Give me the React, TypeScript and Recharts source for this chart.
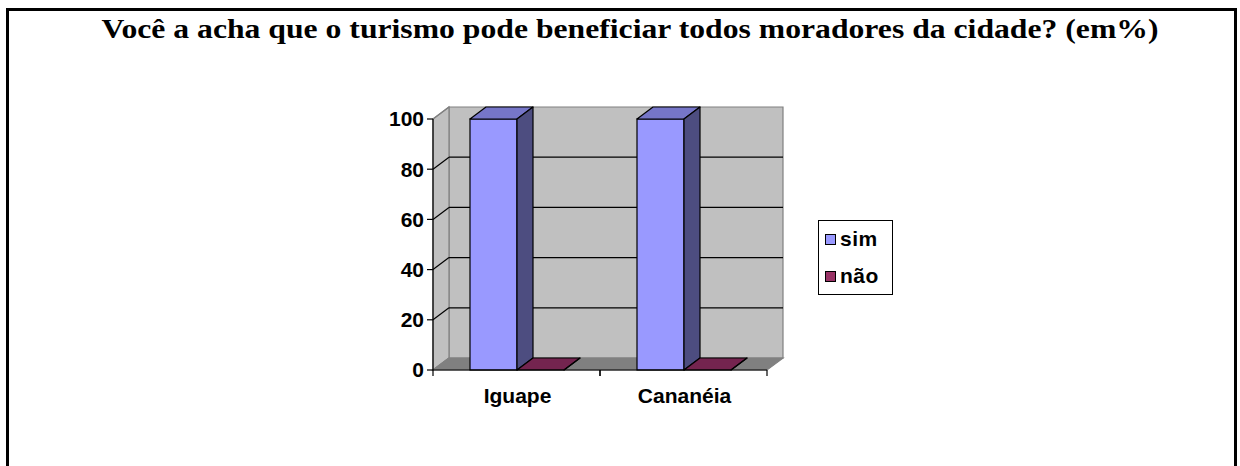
import { BarChart, Bar, XAxis, YAxis, CartesianGrid } from "recharts";

const categories = ["Iguape", "Cananéia"];
const simValues = [100, 100];
const naoValues = [0, 0];
const yTicks = [0, 20, 40, 60, 80, 100];
const seriesKeys = ["sim", "nao"] as const;
const seriesNames = { sim: "sim", nao: "não" };

const data = categories.map((name, i) => ({ name, sim: simValues[i], nao: naoValues[i] }));

// depth of the fake 3D effect
const DX = 16;
const DY = -12;

// fallback plot box (matches the margins below)
const PLOT = { left: 433, right: 767, top: 119, bottom: 370 };

const SANS = "'Liberation Sans', Arial, sans-serif";
const SERIF = '"Liberation Serif", "Times New Roman", Times, serif';

const colors = {
  sim: { front: "#9999ff", top: "#7676c8", side: "#4d4d80" },
  nao: { front: "#993366", top: "#74244f", side: "#4d1a33" },
};

const make3DBar = (c: { front: string; top: string; side: string }) => (props: any) => {
  const { x, y, width, height } = props;
  if (x == null || y == null) return <g />;
  const yb = y + height;
  const xr = x + width;
  return (
    <g>
      <rect x={x} y={y} width={width} height={height} fill={c.front} stroke="#000" strokeWidth={1.2} />
      <polygon
        points={`${x},${y} ${x + DX},${y + DY} ${xr + DX},${y + DY} ${xr},${y}`}
        fill={c.top}
        stroke="#000"
        strokeWidth={1.2}
        strokeLinejoin="round"
      />
      <polygon
        points={`${xr},${y} ${xr + DX},${y + DY} ${xr + DX},${yb + DY} ${xr},${yb}`}
        fill={c.side}
        stroke="#000"
        strokeWidth={1.2}
        strokeLinejoin="round"
      />
    </g>
  );
};

const plotBox = (p: any) => {
  const top = typeof p.y === "number" ? p.y : PLOT.top;
  const h = typeof p.height === "number" ? p.height : PLOT.bottom - PLOT.top;
  return { left: p.x1 ?? PLOT.left, right: p.x2 ?? PLOT.right, top, bottom: top + h };
};

// walls + floor, drawn once behind the grid lines
const Walls = (p: any) => {
  if (p.index !== 0) return <g key={p.key} />;
  const { left: L, right: R, top: T, bottom: B } = plotBox(p);
  return (
    <g key={p.key}>
      <polygon
        points={`${L + DX},${T + DY} ${R + DX},${T + DY} ${R + DX},${B + DY} ${L + DX},${B + DY}`}
        fill="#c0c0c0"
        stroke="#808080"
        strokeWidth={1.2}
      />
      <polygon
        points={`${L},${T} ${L + DX},${T + DY} ${L + DX},${B + DY} ${L},${B}`}
        fill="#c0c0c0"
        stroke="#808080"
        strokeWidth={1.2}
      />
      <polygon
        points={`${L},${B} ${L + DX},${B + DY} ${R + DX},${B + DY} ${R},${B}`}
        fill="#808080"
        stroke="#808080"
        strokeWidth={1.2}
      />
    </g>
  );
};

const GridLine3D = (p: any) => {
  const { left: L, right: R, top: T, bottom: B } = plotBox(p);
  const y = p.y1;
  const edge = Math.abs(y - T) < 1 || Math.abs(y - B) < 1;
  const stroke = edge ? "#808080" : "#000";
  return (
    <g key={p.key}>
      <line x1={L} y1={y} x2={L + DX} y2={y + DY} stroke={stroke} strokeWidth={1.2} />
      {!edge && <line x1={L + DX} y1={y + DY} x2={R + DX} y2={y + DY} stroke={stroke} strokeWidth={1.2} />}
    </g>
  );
};

const CategoryTick = (props: any) => {
  const { x, y, payload, width, visibleTicksCount } = props;
  const half = width && visibleTicksCount ? width / visibleTicksCount / 2 : 83.5;
  const axisY = y - 8;
  return (
    <g>
      <line x1={x - half} y1={axisY} x2={x - half} y2={axisY + 6} stroke="#000" strokeWidth={1.2} />
      <line x1={x + half} y1={axisY} x2={x + half} y2={axisY + 6} stroke="#000" strokeWidth={1.2} />
      <text x={x + 1} y={y + 25} textAnchor="middle" fontFamily={SANS} fontWeight="bold" fontSize={21} fill="#000">
        {payload.value}
      </text>
    </g>
  );
};

const LegendBox = () => (
  <div
    style={{
      position: "absolute",
      left: 818,
      top: 220,
      width: 75,
      height: 75,
      boxSizing: "border-box",
      border: "1.5px solid #000",
      background: "#fff",
      fontFamily: SANS,
      fontWeight: "bold",
      fontSize: 21,
    }}
  >
    {seriesKeys.map((k, i) => (
      <div key={k} style={{ position: "absolute", left: 6, top: 6 + i * 37, display: "flex", alignItems: "center" }}>
        <div style={{ width: 9, height: 9, border: "1px solid #000", background: colors[k].front, marginRight: 4 }} />
        <span style={{ lineHeight: "24px", letterSpacing: 0.5 }}>{seriesNames[k]}</span>
      </div>
    ))}
  </div>
);

export default function App() {
  return (
    <div style={{ position: "absolute", left: 0, top: 0, width: 1240, height: 466, overflow: "hidden", background: "#fff" }}>
      <div
        style={{
          position: "absolute",
          left: 6,
          top: 8,
          width: 1231,
          height: 480,
          boxSizing: "border-box",
          borderLeft: "3px solid #000",
          borderTop: "3px solid #000",
          borderRight: "3px solid #000",
        }}
      />
      <svg width={1240} height={60} style={{ position: "absolute", left: 0, top: 0 }}>
        <text
          x={630}
          y={38}
          textAnchor="middle"
          style={{ fontFamily: SERIF, fontWeight: "bold", fontSize: 28 }}
          fill="#000"
          textLength={1057}
          lengthAdjust="spacingAndGlyphs"
        >
          Você a acha que o turismo pode beneficiar todos moradores da cidade? (em%)
        </text>
      </svg>
      <div style={{ position: "absolute", left: 0, top: 0 }}>
        <BarChart
          width={1240}
          height={466}
          data={data}
          margin={{ top: 119, right: 473, bottom: 66, left: 373 }}
          barSize={47}
          barGap={0}
        >
          <CartesianGrid vertical={false} horizontal={Walls} />
          <CartesianGrid vertical={false} horizontal={GridLine3D} />
          <XAxis
            dataKey="name"
            height={30}
            tickSize={6}
            tickMargin={2}
            tickLine={false}
            axisLine={{ stroke: "#000", strokeWidth: 1.2 }}
            tick={<CategoryTick />}
            interval={0}
          />
          <YAxis
            width={60}
            domain={[0, 100]}
            ticks={yTicks}
            tickSize={6}
            tickMargin={3}
            axisLine={{ stroke: "#000", strokeWidth: 1.2 }}
            tickLine={{ stroke: "#000", strokeWidth: 1.2 }}
            tick={{ fill: "#000", fontFamily: SANS, fontWeight: "bold", fontSize: 21 }}
          />
          {seriesKeys.map((k) => (
            <Bar
              key={k}
              dataKey={k}
              name={seriesNames[k]}
              fill={colors[k].front}
              shape={make3DBar(colors[k])}
              isAnimationActive={false}
            />
          ))}
        </BarChart>
      </div>
      <LegendBox />
    </div>
  );
}
